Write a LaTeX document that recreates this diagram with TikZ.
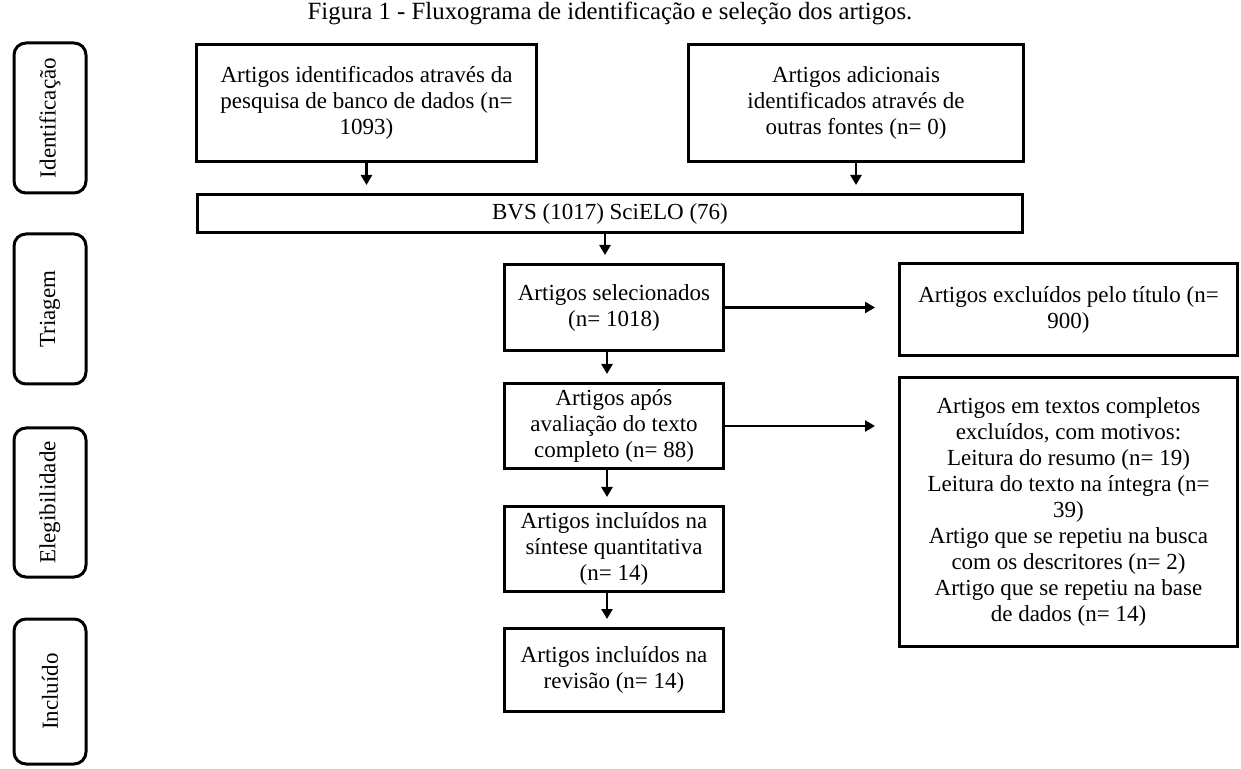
\documentclass[tikz,border=0pt]{standalone}
\usepackage{fontspec}
\setmainfont{Liberation Serif}
\usetikzlibrary{arrows.meta,positioning,calc}
\tikzset{
  caixa/.style={draw,line width=1.5pt,align=center,inner sep=1pt,
    font=\fontsize{11.5}{13}\selectfont},
  fase/.style={draw,line width=1.5pt,rounded corners=6pt,rotate=90,
    inner sep=1pt,minimum height=36pt,font=\fontsize{11.5}{13}\selectfont},
  seta/.style={-{Triangle[width=5.5pt,length=5pt]},line width=1.3pt},
}

\begin{document}
\begin{tikzpicture}[x=0.5pt,y=-0.5pt]
  \useasboundingbox (0,0) rectangle (1241,769);

  \node[font=\fontsize{12.4}{14}\selectfont] (titulo) at (610,13)
    {Figura 1 - Fluxograma de identificação e seleção dos artigos.};

  % fases
  \node[fase,minimum width=75pt] (fid) at (50,118) {Identificação};
  \node[fase,minimum width=75pt] (ftr) at (50,309) {Triagem};
  \node[fase,minimum width=74.5pt] (fel) at (50,502.5) {Elegibilidade};
  \node[fase,minimum width=72.5pt] (fin) at (50,691.5) {Incluído};

  % caixas
  \node[caixa,minimum width=170pt,minimum height=58.5pt] (ident) at (366.5,103)
    {Artigos identificados através da\\pesquisa de banco de dados (n=\\1093)};
  \node[caixa,minimum width=167.5pt,minimum height=58.5pt] (outras) at (856,103)
    {Artigos adicionais\\identificados através de\\outras fontes (n= 0)};
  \node[caixa,minimum width=412.5pt,minimum height=19pt] (bvs) at (610,213.5)
    {BVS (1017) SciELO (76)};
  \node[caixa,minimum width=109.5pt,minimum height=43pt] (sel) at (614,307.5)
    {Artigos selecionados\\(n= 1018)};
  \node[caixa,minimum width=169pt,minimum height=46pt] (excl) at (1068.5,309.5)
    {Artigos excluídos pelo título (n=\\900)};
  \node[caixa,minimum width=109.5pt,minimum height=42.5pt] (apos) at (614,426)
    {Artigos após\\avaliação do texto\\completo (n= 88)};
  \node[caixa,minimum width=169pt,minimum height=134.5pt] (motivos) at (1068.5,512)
    {Artigos em textos completos\\excluídos, com motivos:\\Leitura do resumo (n= 19)\\
     Leitura do texto na íntegra (n=\\39)\\Artigo que se repetiu na busca\\
     com os descritores (n= 2)\\Artigo que se repetiu na base\\de dados (n= 14)};
  \node[caixa,minimum width=109.5pt,minimum height=42.5pt] (sint) at (614,549)
    {Artigos incluídos na\\síntese quantitativa\\(n= 14)};
  \node[caixa,minimum width=109.5pt,minimum height=41.5pt] (rev) at (614,670)
    {Artigos incluídos na\\revisão (n= 14)};

  % setas
  \draw[seta,shorten >=4pt] (ident.south) -- (ident.south |- bvs.north);
  \draw[seta,shorten >=4pt] (outras.south) -- (outras.south |- bvs.north);
  \draw[seta,shorten >=4pt] ([xshift=-4.5pt]sel.north |- bvs.south) -- ([xshift=-4.5pt]sel.north);
  \draw[seta,shorten >=11.5pt] (sel.east) -- (sel.east -| excl.west);
  \draw[seta,shorten >=4pt] ([xshift=-3.5pt]sel.south) -- ([xshift=-3.5pt]apos.north);
  \draw[seta,shorten >=11.5pt] (apos.east) -- (apos.east -| motivos.west);
  \draw[seta,shorten >=4pt] ([xshift=-3.5pt]apos.south) -- ([xshift=-3.5pt]sint.north);
  \draw[seta,shorten >=4pt] ([xshift=-3.5pt]sint.south) -- ([xshift=-3.5pt]rev.north);
\end{tikzpicture}
\end{document}
